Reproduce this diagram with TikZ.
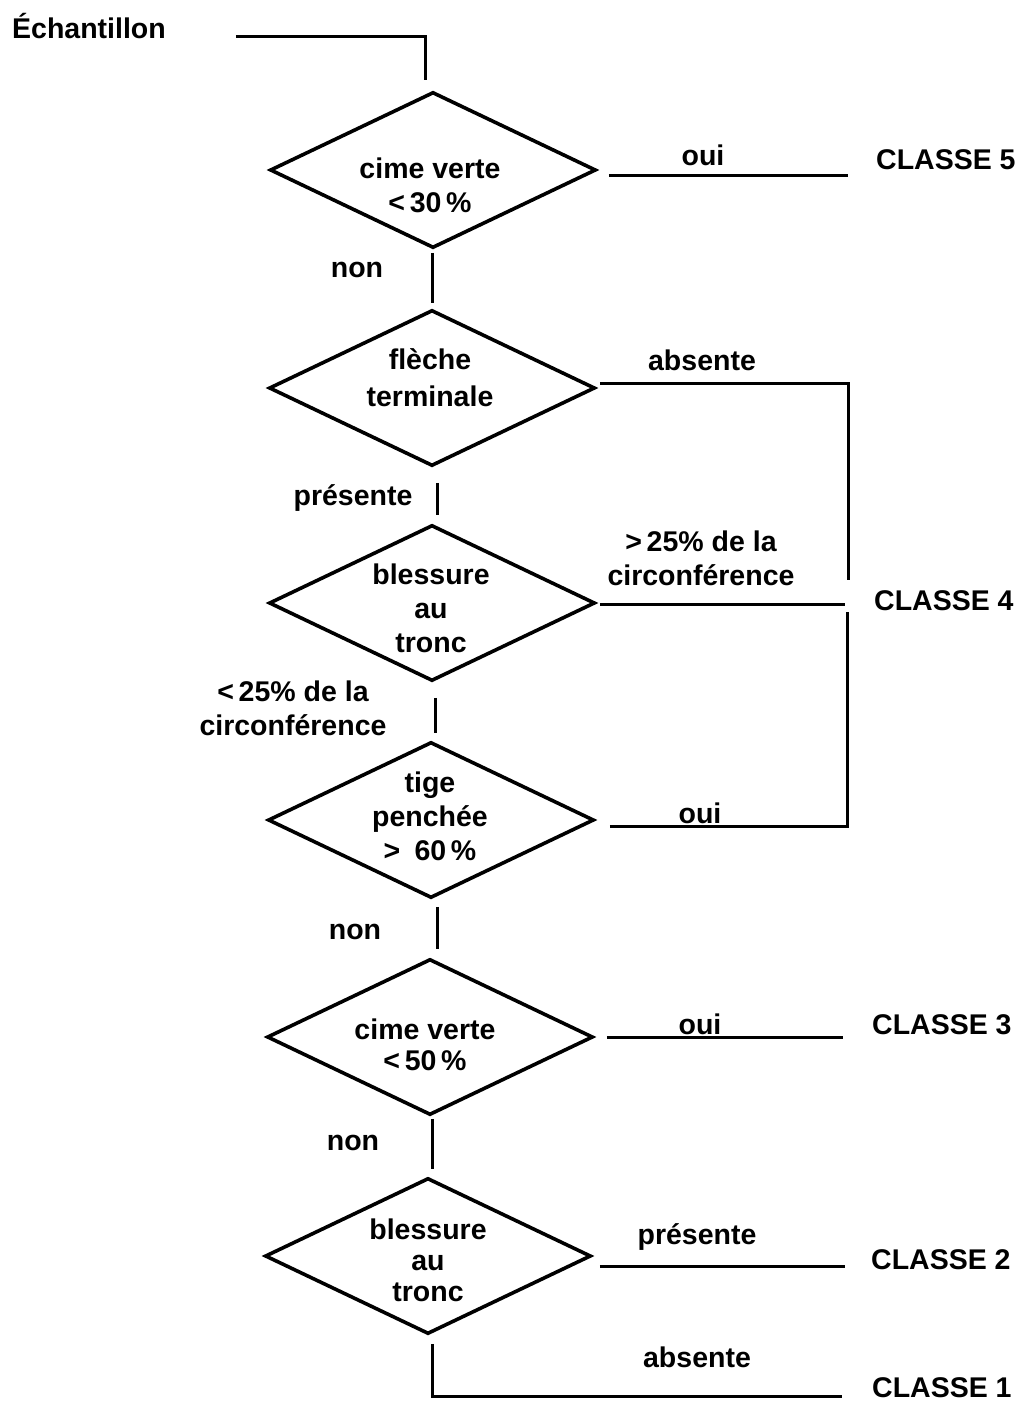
\documentclass[tikz,border=0pt]{standalone}
\usepackage{fontspec}
\setmainfont{Liberation Sans}
\usetikzlibrary{shapes.geometric,calc}
\begin{document}
\begin{tikzpicture}[x=1pt,y=-1pt,
  dia/.style={draw, diamond, line width=3.6pt, line join=miter, inner sep=0pt,
              minimum width=326pt, minimum height=156pt, aspect=2.09},
  txt/.style={font=\fontsize{28.5}{34}\selectfont\bfseries, align=center, inner sep=0pt},
  cls/.style={txt, anchor=west},
  wire/.style={line width=3pt}]
\useasboundingbox (0,0) rectangle (1028,1403);

% decision diamonds
\node[dia] (d1) at (433,170) {};
\node[dia] (d2) at (432,388) {};
\node[dia] (d3) at (432,603) {};
\node[dia] (d4) at (431,820) {};
\node[dia] (d5) at (430,1037) {};
\node[dia] (d6) at (428,1256) {};

% questions inside the diamonds
\node[txt] (q1) at (430,185) {cime verte\\<\,30\,\%};
\node[txt, font=\fontsize{28.5}{37}\selectfont\bfseries] (q2) at (430,378) {flèche\\terminale};
\node[txt] (q3) at (431,608) {blessure\\au\\tronc};
\node[txt] (q4) at (430,816) {tige\\penchée\\>\enspace60\,\%};
\node[txt, font=\fontsize{28.5}{31}\selectfont\bfseries] (q5) at (425,1045) {cime verte\\<\,50\,\%};
\node[txt, font=\fontsize{28.5}{31}\selectfont\bfseries] (q6) at (428,1260) {blessure\\au\\tronc};

% start and outcomes
\node[txt, anchor=west] (ech) at (12,26) {Échantillon};
\node[cls] (c5) at (876,160) {CLASSE 5};
\node[cls] (c4) at (874,601) {CLASSE 4};
\node[cls] (c3) at (872,1025) {CLASSE 3};
\node[cls] (c2) at (871,1260) {CLASSE 2};
\node[cls] (c1) at (872,1388) {CLASSE 1};

% branch labels
\node[txt] (l1) at (703,155) {oui};
\node[txt] (l2) at (357,270) {non};
\node[txt] (l3) at (702,360) {absente};
\node[txt] (l4) at (353,498) {présente};
\node[txt] (l5) at (701,558) {>\,25\% de la\\circonférence};
\node[txt] (l6) at (293,708) {<\,25\% de la\\circonférence};
\node[txt] (l7) at (700,813) {oui};
\node[txt] (l8) at (355,932) {non};
\node[txt] (l9) at (700,1024) {oui};
\node[txt] (l10) at (353,1143) {non};
\node[txt] (l11) at (697,1237) {présente};
\node[txt] (l12) at (697,1357) {absente};

% connector ends
\coordinate (s0) at ($(ech.east)+(70,10)$);
\coordinate (k4top) at (848,383);
\coordinate (k4bot) at (847,826);

% entry
\draw[wire] (s0) -| ($(d1.north)+(-8,-10)$);
% cime verte < 30 %
\draw[wire] ($(d1.east)+(11,5)$) -- ($(c5.west)+(-28,15)$);
\draw[wire] ($(d1.south)+(-1,3)$) -- ($(d2.north)+(0,-5)$);
% fleche terminale
\draw[wire] ($(d2.east)+(3,-5)$) -- (k4top) -- ($(c4.west)+(-26,-21)$);
\draw[wire] ($(d2.south)+(5,15)$) -- ($(d3.north)+(5,-8)$);
% blessure au tronc
\draw[wire] ($(d3.east)+(3,1)$) -- ($(c4.west)+(-29,3)$);
\draw[wire] ($(d3.south)+(3,15)$) -- ($(d4.north)+(4,-7)$);
% tige penchee
\draw[wire] ($(d4.east)+(14,6)$) -- (k4bot) -- ($(c4.west)+(-27,11)$);
\draw[wire] ($(d4.south)+(6,7)$) -- ($(d5.north)+(7,-8)$);
% cime verte < 50 %
\draw[wire] ($(d5.east)+(12,0)$) -- ($(c3.west)+(-29,12)$);
\draw[wire] ($(d5.south)+(2,2)$) -- ($(d6.north)+(4,-7)$);
% blessure au tronc, last test
\draw[wire] ($(d6.east)+(7,10)$) -- ($(c2.west)+(-26,6)$);
\draw[wire] ($(d6.south)+(4,8)$) |- ($(c1.west)+(-30,8)$);
\end{tikzpicture}
\end{document}
